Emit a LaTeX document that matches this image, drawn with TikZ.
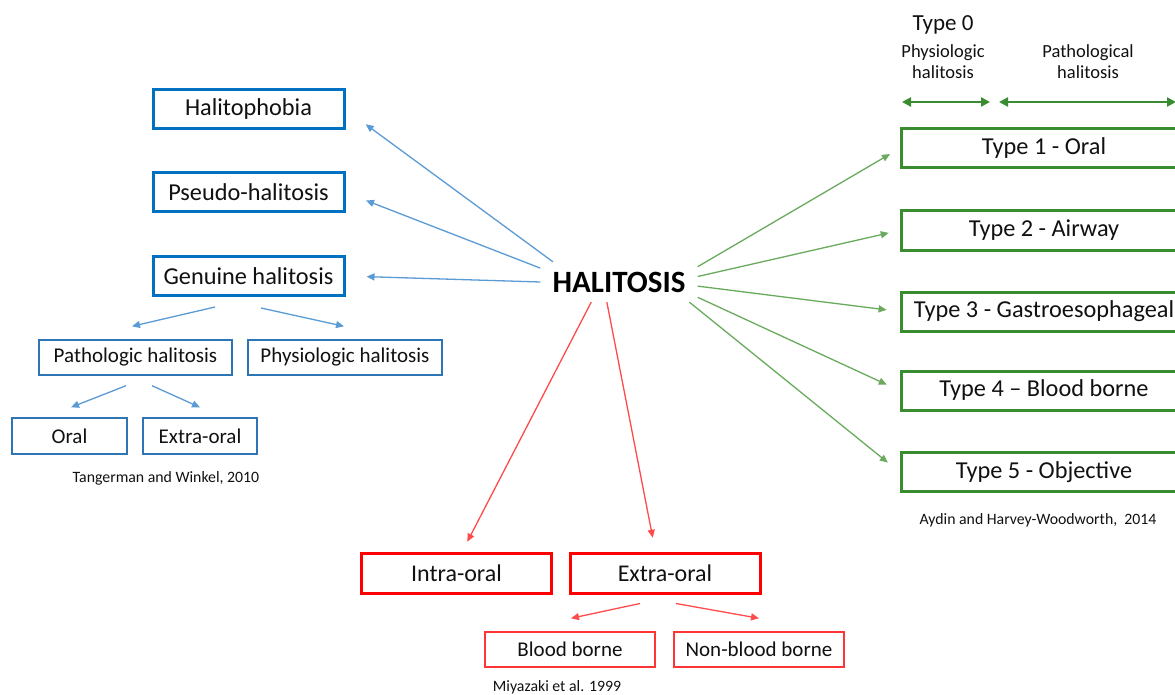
\documentclass[tikz,border=0pt]{standalone}
\usepackage{fontspec}
\setmainfont{Carlito}
\usepackage{xcolor}
\usepackage{tikz}
\usetikzlibrary{calc,arrows.meta}
\definecolor{ink}{HTML}{111111}
\definecolor{bluebox}{HTML}{0070C0}
\definecolor{bluethin}{HTML}{2E75B6}
\definecolor{bluearr}{HTML}{5B9BD5}
\definecolor{greenbox}{HTML}{3A8C30}
\definecolor{greenarr}{HTML}{6AAA5E}
\definecolor{redbox}{HTML}{FF0000}
\definecolor{redthin}{HTML}{FF3535}
\definecolor{redarr}{HTML}{FF4B4B}
\tikzset{
  fsz/.style={font=\fontsize{#1}{#1}\selectfont},
  bigbox/.style={draw=bluebox, line width=3pt, minimum width=191pt, minimum height=39pt, inner sep=0pt, text=ink, fsz=24.3},
  thinbox/.style={draw=bluethin, line width=1.4pt, minimum height=35pt, inner sep=0pt, text=ink, fsz=21},
  typebox/.style={draw=greenbox, line width=3pt, minimum width=286pt, minimum height=39pt, inner sep=0pt, text=ink, fsz=24.3},
  redbig/.style={draw=redbox, line width=3pt, minimum width=190pt, minimum height=40pt, inner sep=0pt, text=ink, fsz=24},
  redsmall/.style={draw=redthin, line width=1.4pt, minimum width=170pt, minimum height=35pt, inner sep=0pt, text=ink, fsz=21},
  cite/.style={text=ink, fsz=15.8},
  tip/.style={-{Triangle[length=8pt,width=7pt]}},
  barr/.style={draw=bluearr, line width=1.3pt, tip},
  garr/.style={draw=greenarr, line width=1.3pt, tip},
  rarr/.style={draw=redarr, line width=1.3pt, tip},
  span/.style={draw=greenbox, line width=2.5pt, {Triangle[length=9pt,width=9pt]}-{Triangle[length=9pt,width=9pt]}},
}

\begin{document}
\begin{tikzpicture}[x=1pt,y=-1pt]
  \path[use as bounding box, fill=white] (0,0) rectangle (1175,695);

  % centre
  \node[minimum width=157pt, minimum height=40pt, inner sep=0pt, text=black,
        font=\bfseries\fontsize{31}{31}\selectfont] (hal) at (619,282) {HALITOSIS};

  % Tangerman and Winkel
  \node[bigbox] (phob) at (248.5,109.5) {Halitophobia};
  \node[bigbox] (pseudo) at (248.5,192.5) {Pseudo-halitosis};
  \node[bigbox] (gen) at (248.5,276) {Genuine halitosis};
  \node[thinbox, minimum width=193pt] (pat) at (135.5,357.5) {Pathologic halitosis};
  \node[thinbox, minimum width=194pt] (phys) at (345,357.5) {Physiologic halitosis};
  \node[thinbox, minimum width=115pt, minimum height=36pt] (oral) at (69.5,436) {Oral};
  \node[thinbox, minimum width=114pt, minimum height=36pt] (extb) at (200,436) {Extra-oral};
  \node[cite] (tw) at (166,478) {Tangerman and Winkel, 2010};

  \draw[barr, shorten >=25pt] (hal.163) -- (phob.east);
  \draw[barr, shorten >=22pt] (hal.170.5) -- (pseudo.east);
  \draw[barr, shorten >=21pt] (hal.west) -- (gen.east);
  \draw[barr] ($(gen.south)+(-33.5,10)$) -- ($(pat.north)+(-3.5,-13)$);
  \draw[barr] ($(gen.south)+(12.5,11)$) -- ($(phys.north)+(-1,-13)$);
  \draw[barr] ($(pat.south)+(-9.5,10)$) -- ($(oral.north)+(1.5,-10)$);
  \draw[barr] ($(pat.south)+(16.5,10)$) -- ($(extb.north)+(0,-10)$);

  % Miyazaki
  \node[redbig] (intra) at (456.5,573) {Intra-oral};
  \node[redbig] (exo) at (665,573) {Extra-oral};
  \node[redsmall] (blood) at (570,649.5) {Blood borne};
  \node[redsmall] (nonb) at (759,649.5) {Non-blood borne};
  \node[cite] (miy) at (557,687) {Miyazaki et al. 1999};

  \draw[rarr, shorten >=11pt] (hal.-144) -- (intra.75);
  \draw[rarr, shorten >=14pt] (hal.-121) -- (exo.114);
  \draw[rarr] ($(exo.south)+(-25,9)$) -- ($(blood.north)+(1,-13)$);
  \draw[rarr] ($(exo.south)+(11,9)$) -- ($(nonb.north)+(0,-13)$);

  % Aydin and Harvey-Woodworth
  \node[text=ink, fsz=23] (t0) at (943,25) {Type 0};
  \node[text=ink, align=center, font=\fontsize{18.5}{21}\selectfont] (phys0) at (943,62) {Physiologic\\halitosis};
  \node[text=ink, align=center, font=\fontsize{18.5}{21}\selectfont] (path0) at (1088,62) {Pathological\\halitosis};
  \coordinate (s0a) at (902,102);
  \coordinate (s0b) at (990,102);
  \coordinate (s1a) at (999,102);
  \coordinate (s1b) at (1176,102);
  \draw[span] (s0a) -- (s0b);
  \draw[span] (s1a) -- (s1b);

  \node[typebox] (ty1) at (1044,148.5) {Type 1 - Oral};
  \node[typebox] (ty2) at (1044,230.5) {Type 2 - Airway};
  \node[typebox] (ty3) at (1044,311.5) {Type 3 - Gastroesophageal};
  \node[typebox] (ty4) at (1044,390.5) {Type 4 -- Blood borne};
  \node[typebox] (ty5) at (1044,472) {Type 5 - Objective};
  \node[cite] (ah) at (1038,520) {Aydin and Harvey-Woodworth,\ \ 2014};

  \draw[garr, shorten >=11pt] (hal.11) -- (ty1.west);
  \draw[garr, shorten >=11pt] (hal.4.4) -- (ty2.west);
  \draw[garr, shorten >=13pt] (hal.-3.8) -- (ty3.west);
  \draw[garr, shorten >=14pt] (hal.-11) -- (ty4.west);
  \draw[garr, shorten >=15pt] (hal.-16.5) -- (ty5.west);
\end{tikzpicture}
\end{document}
